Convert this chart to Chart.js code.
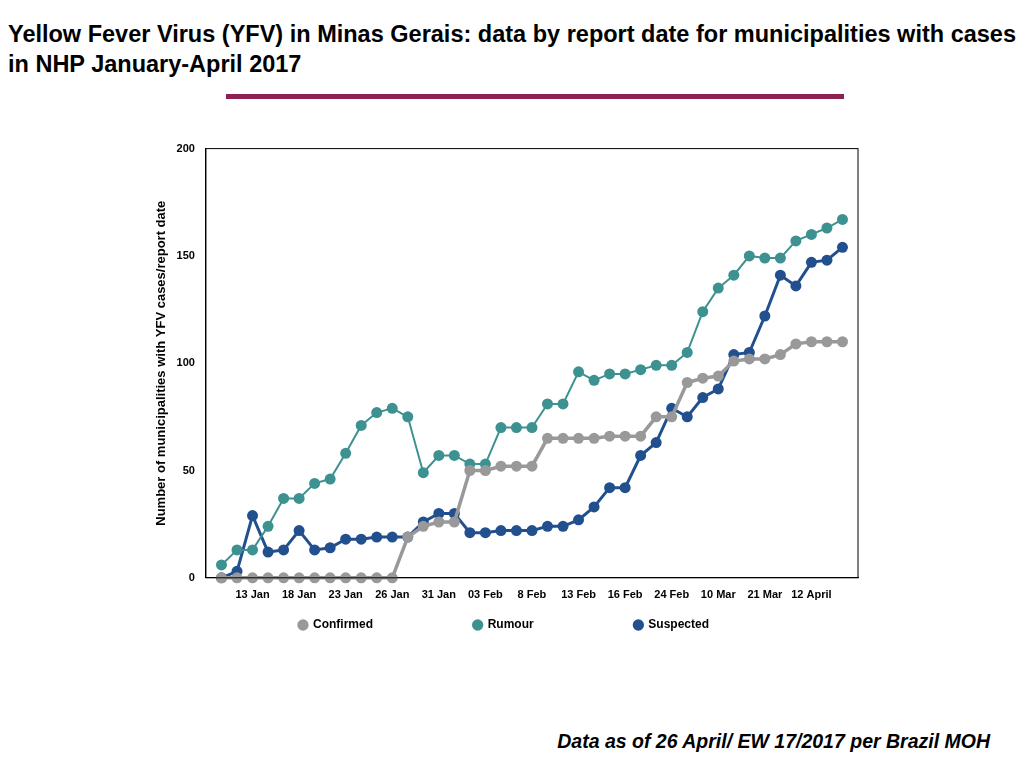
<!DOCTYPE html>
<html>
<head>
<meta charset="utf-8">
<script src="https://cdn.jsdelivr.net/npm/chart.js@4"></script>
<style>
  body { margin: 0; width: 1024px; height: 768px; background: #fff; font-family: "Liberation Sans", Arial, sans-serif; position: relative; overflow: hidden; }
  #title { position: absolute; left: 8px; top: 19px; width: 1008px; font-size: 23.5px; font-weight: bold; line-height: 30px; text-align: justify; text-align-last: left; color: #000; }
  #rule { position: absolute; left: 226px; top: 94px; width: 618px; height: 5px; background: #8b2252; }
  #wrap { position: absolute; left: 150px; top: 139px; width: 718px; height: 502px; }
  #foot { position: absolute; right: 34px; top: 730px; font-size: 19.5px; font-weight: bold; font-style: italic; }
</style>
</head>
<body>
<div id="title">Yellow Fever Virus (YFV) in Minas Gerais: data by report date for municipalities with cases in NHP January-April 2017</div>
<div id="rule"></div>
<div id="wrap"><canvas id="chart"></canvas></div>
<div id="foot">Data as of 26 April/ EW 17/2017 per Brazil MOH</div>
<script>
const tickLabels = ["13 Jan", "18 Jan", "23 Jan", "26 Jan", "31 Jan", "03 Feb", "8 Feb", "13 Feb", "16 Feb", "24 Feb", "10 Mar", "21 Mar", "12 April"];
const confirmed = [0,0,0,0,0,0,0,0,0,0,0,0,19,24,26,26,50,50,52,52,52,65,65,65,65,66,66,66,75,75,91,93,94,101,102,102,104,109,110,110,110];
const rumour = [6,13,13,24,37,37,44,46,58,71,77,79,75,49,57,57,53,53,70,70,70,81,81,96,92,95,95,97,99,99,105,124,135,141,150,149,149,157,160,163,167];
const suspected = [0,3,29,12,13,22,13,14,18,18,19,19,19,26,30,30,21,21,22,22,22,24,24,27,33,42,42,57,63,79,75,84,88,104,105,122,141,136,147,148,154];

function pts(arr) { return arr.map((v, i) => ({ x: i, y: v })); }

const frame = {
  id: "frame",
  afterDraw(chart) {
    const a = chart.chartArea, ctx = chart.ctx;
    ctx.save();
    ctx.strokeStyle = "#000";
    ctx.lineWidth = 1;
    ctx.strokeRect(a.left, a.top, a.right - a.left, a.bottom - a.top);
    ctx.restore();
  }
};

function ds(label, data, color, width) {
  return {
    label: label, data: pts(data), borderColor: color, backgroundColor: color,
    borderWidth: width, pointRadius: 5.5, pointHoverRadius: 5.5, pointBorderWidth: 0, tension: 0, clip: false
  };
}

new Chart(document.getElementById("chart"), {
  type: "line",
  data: {
    datasets: [
      ds("Confirmed", confirmed, "#999999", 3.5),
      ds("Rumour", rumour, "#3d9191", 2),
      ds("Suspected", suspected, "#22508f", 3)
    ]
  },
  plugins: [frame],
  options: {
    responsive: true,
    maintainAspectRatio: false,
    animation: false,
    layout: { padding: { right: 10 } },
    scales: {
      x: {
        type: "linear", min: -1, max: 41,
        grid: { display: false },
        border: { color: "#000" },
        afterBuildTicks(axis) { axis.ticks = tickLabels.map((t, i) => ({ value: 2 + i * 3 })); },
        ticks: {
          autoSkip: false, maxRotation: 0, color: "#000",
          font: { size: 11, weight: "bold", family: "Liberation Sans" },
          callback: (v) => tickLabels[(v - 2) / 3]
        }
      },
      y: {
        min: 0, max: 200,
        grid: { display: false },
        border: { color: "#000" },
        ticks: { stepSize: 50, color: "#000", font: { size: 11, weight: "bold", family: "Liberation Sans" } },
        title: { display: true, text: "Number of municipalities with YFV cases/report date", color: "#000", font: { size: 13, weight: "bold", family: "Liberation Sans" } }
      }
    },
    plugins: {
      legend: {
        position: "bottom",
        labels: {
          usePointStyle: true, pointStyle: "circle", boxWidth: 8, boxHeight: 8, padding: 14, color: "#000",
          font: { size: 12, weight: "bold", family: "Liberation Sans" },
          generateLabels(chart) {
            return chart.data.datasets.map((d, i) => ({
              text: d.label + "                              ".slice(0, i < 2 ? 26 : 0),
              fillStyle: d.borderColor, strokeStyle: d.borderColor, lineWidth: 0,
              pointStyle: "circle", datasetIndex: i, fontColor: "#000"
            }));
          }
        }
      },
      tooltip: { enabled: false }
    }
  }
});
</script>
</body>
</html>
